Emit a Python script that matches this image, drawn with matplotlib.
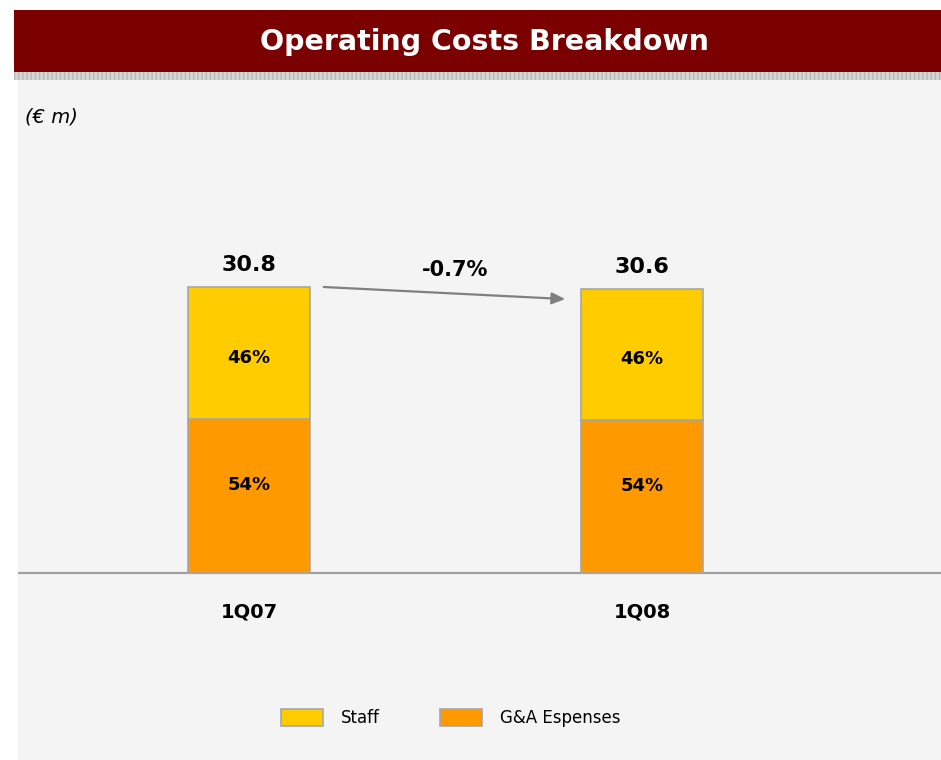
import numpy as np
import matplotlib.pyplot as plt
from matplotlib.patches import Rectangle

# данные
categories = ["1Q07", "1Q08"]
totals = [30.8, 30.6]
staff_pct = [46, 46]
ga_pct = [54, 54]
change_label = "-0.7%"

staff_color = "#FFCC00"
ga_color = "#FF9900"

W, H = 941, 760
fig = plt.figure(figsize=(W / 100, H / 100), dpi=100)
fig.patch.set_facecolor("white")


def px(x, y):
    # пиксели -> координаты фигуры
    return x / W, 1 - y / H


# фон панели
x0, y0 = px(18, 760)
fig.add_artist(Rectangle((x0, y0), 1 - x0, (760 - 80) / H, transform=fig.transFigure,
                         facecolor="#F4F4F4", edgecolor="none", zorder=0))
# серая полоса под заголовком
x0, y0 = px(14, 80)
fig.add_artist(Rectangle((x0, y0), 1 - x0, 8 / H, transform=fig.transFigure,
                         facecolor="#D6D6D6", edgecolor="#B8B8B8", hatch="||||",
                         linewidth=0, zorder=1))
# заголовок
x0, y0 = px(14, 72)
fig.add_artist(Rectangle((x0, y0), 1 - x0, 62 / H, transform=fig.transFigure,
                         facecolor="#7B0000", edgecolor="none", zorder=1))
fig.text(485 / W, 1 - 42 / H, "Operating Costs Breakdown", color="white",
         fontsize=20.5, fontweight="bold", ha="center", va="center")
fig.text(25 / W, 1 - 117 / H, "(€ m)", fontsize=14, fontstyle="italic",
         ha="left", va="center")

# оси: 0 на пикселе 573, 30.8 на пикселе 287
scale = (573 - 287) / 30.8
ax = fig.add_axes([18 / W, 0, 1 - 18 / W, (760 - 80) / H])
ax.set_facecolor("none")
ymin = -(760 - 573) / scale
ax.set_ylim(ymin, ymin + 680 / scale)
ax.set_xlim(-(249 - 18) / 393, 1 + (941 - 642) / 393)
ax.axis("off")

x = np.arange(len(categories))
staff = np.array(totals) * np.array(staff_pct) / 100
ga = np.array(totals) * np.array(ga_pct) / 100
width = 122 / 393

ax.bar(x, ga, width, color=ga_color, edgecolor="#A6A6A6", linewidth=1.2,
       label="G&A Espenses", zorder=3)
ax.bar(x, staff, width, bottom=ga, color=staff_color, edgecolor="#A6A6A6",
       linewidth=1.2, label="Staff", zorder=3)
ax.axhline(0, color="#A0A0A0", linewidth=1.6, zorder=2)

for i in range(len(x)):
    ax.text(x[i], totals[i] + 1.3, f"{totals[i]:.1f}", ha="center", va="bottom",
            fontsize=16, fontweight="bold")
    ax.text(x[i], ga[i] + staff[i] * 0.46, f"{staff_pct[i]}%", ha="center",
            va="center", fontsize=13, fontweight="bold")
    ax.text(x[i], ga[i] * 0.57, f"{ga_pct[i]}%", ha="center", va="center",
            fontsize=13, fontweight="bold")
    ax.text(x[i], -4.2, categories[i], ha="center", va="center",
            fontsize=14, fontweight="bold")

# стрелка изменения
ax.annotate("", xy=(x[1] - width / 2 - 0.04, totals[1] - 1.1),
            xytext=(x[0] + width / 2 + 0.035, totals[0]),
            arrowprops=dict(arrowstyle="-|>,head_length=0.8,head_width=0.35",
                            color="#808080", lw=1.6, shrinkA=0, shrinkB=0))
ax.text(0.525, totals[0] + 0.8, change_label, ha="center", va="bottom",
        fontsize=15, fontweight="bold")

handles, labels = ax.get_legend_handles_labels()
leg = ax.legend(handles[::-1], labels[::-1], loc="center", ncol=2,
                bbox_to_anchor=(451 / W, 1 - 718 / H), bbox_transform=fig.transFigure,
                frameon=False, fontsize=12, handlelength=2.5, handleheight=1.25,
                handletextpad=1.1, columnspacing=3.6)

plt.savefig("out.png", dpi=100)
